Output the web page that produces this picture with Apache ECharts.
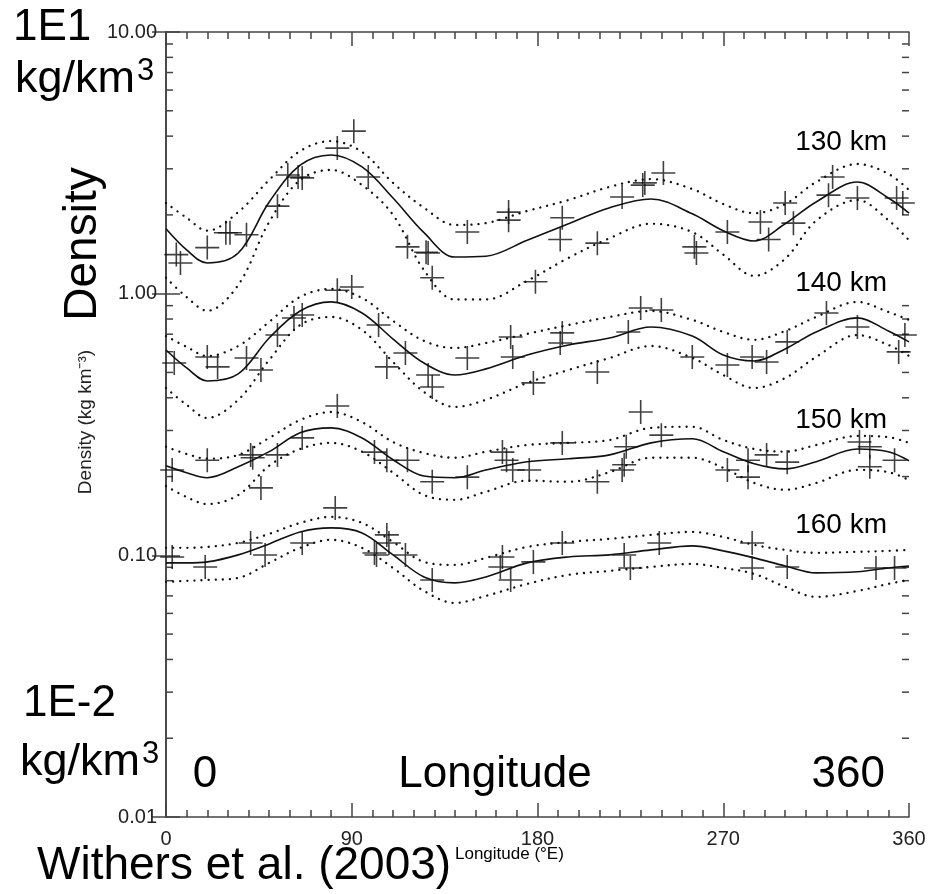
<!DOCTYPE html>
<html>
<head>
<meta charset="utf-8">
<script src="https://cdn.jsdelivr.net/npm/echarts@6/dist/echarts.min.js"></script>
<style>
html,body{margin:0;padding:0;background:#fff;}
#chart{width:930px;height:894px;}
</style>
</head>
<body>
<div id="chart"></div>
<script>
// Longitude grid for fitted curves (deg E)
const lonGrid = [0,10,20,35,50,65,80,95,110,125,140,155,175,195,215,235,255,270,285,300,315,335,350,360];

// 130 km
const fit130 = [1.77,1.47,1.31,1.43,2.24,3.10,3.39,3.05,2.32,1.71,1.38,1.39,1.60,1.85,2.13,2.30,2.02,1.74,1.59,1.85,2.24,2.67,2.32,2.03];
const up130  = [2.22,1.95,1.74,2.05,2.72,3.51,3.83,3.48,2.65,2.13,1.83,1.86,2.07,2.28,2.56,2.74,2.51,2.20,2.03,2.20,2.67,3.13,2.87,2.49];
const lo130  = [1.15,0.97,0.86,1.08,1.88,2.72,2.97,2.60,2.00,1.23,0.95,0.95,1.12,1.37,1.63,1.85,1.72,1.41,1.17,1.36,1.90,2.28,1.91,1.60];
// 140 km
const fit140 = [0.609,0.520,0.464,0.494,0.677,0.859,0.930,0.844,0.671,0.543,0.489,0.516,0.583,0.637,0.677,0.746,0.689,0.583,0.553,0.615,0.714,0.808,0.720,0.654];
const up140  = [0.689,0.626,0.578,0.631,0.780,0.972,1.042,0.963,0.787,0.660,0.620,0.648,0.702,0.759,0.815,0.859,0.794,0.714,0.666,0.720,0.815,0.930,0.851,0.794];
const lo140  = [0.436,0.376,0.335,0.393,0.558,0.759,0.815,0.727,0.548,0.421,0.369,0.393,0.456,0.511,0.568,0.631,0.568,0.489,0.436,0.476,0.573,0.695,0.637,0.578];
// 150 km
const fit150 = [0.220,0.207,0.198,0.218,0.249,0.294,0.307,0.281,0.232,0.201,0.198,0.212,0.228,0.234,0.242,0.269,0.279,0.249,0.224,0.214,0.228,0.255,0.249,0.230];
const up150  = [0.260,0.244,0.234,0.242,0.281,0.329,0.353,0.323,0.271,0.246,0.236,0.249,0.264,0.269,0.276,0.307,0.310,0.276,0.255,0.249,0.264,0.286,0.283,0.269];
const lo150  = [0.184,0.167,0.157,0.170,0.220,0.255,0.269,0.249,0.207,0.170,0.163,0.175,0.193,0.191,0.208,0.236,0.236,0.216,0.189,0.178,0.189,0.212,0.208,0.194];
// 160 km
const fit160 = [0.0936,0.0936,0.0944,0.1004,0.1106,0.1229,0.1273,0.1218,0.1004,0.0827,0.0785,0.0827,0.0936,0.0986,0.1004,0.1049,0.1087,0.1040,0.0978,0.0911,0.0857,0.0865,0.0895,0.0911];
const up160  = [0.1068,0.1068,0.1077,0.1116,0.1208,0.1330,0.1402,0.1330,0.1125,0.0944,0.0919,0.0978,0.1077,0.1125,0.1156,0.1197,0.1229,0.1176,0.1096,0.1049,0.1022,0.1031,0.1040,0.1049];
const lo160  = [0.0792,0.0799,0.0805,0.0820,0.0936,0.1068,0.1146,0.1068,0.0895,0.0731,0.0658,0.0700,0.0778,0.0842,0.0872,0.0903,0.0927,0.0895,0.0849,0.0758,0.0694,0.0731,0.0778,0.0805];

// Observations (crosses)
const obs130Lon = [5,7,20,29,31,39,54,59,64,66,83,91,98,117,126,127,129,146,166,166,179,192,191,209,221,231,232,241,256,257,272,288,292,300,304,323,321,335,354,357];
const obs130Val = [1.41,1.31,1.50,1.71,1.71,1.68,2.16,2.84,2.79,2.77,3.60,4.18,2.79,1.51,1.44,1.43,1.15,1.72,2.05,1.91,1.11,1.95,1.61,1.56,2.34,2.60,2.65,2.89,1.51,1.43,1.72,1.88,1.61,2.22,1.86,2.79,2.38,2.32,2.32,2.22];
const obs140Lon = [4,20,25,39,46,54,62,66,83,90,103,107,116,127,129,146,167,168,178,192,191,209,224,230,240,255,272,284,291,301,320,335,355,358];
const obs140Val = [0.543,0.573,0.525,0.568,0.511,0.695,0.807,0.829,1.03,1.06,0.759,0.525,0.593,0.489,0.440,0.568,0.683,0.573,0.456,0.708,0.648,0.502,0.714,0.882,0.866,0.573,0.534,0.573,0.548,0.654,0.844,0.746,0.599,0.695];
const obs150Lon = [3,20,41,42,46,54,66,83,101,107,117,129,146,163,165,168,176,192,230,223,222,221,209,240,272,282,282,291,301,336,341,341,353];
const obs150Val = [0.212,0.231,0.242,0.236,0.181,0.242,0.281,0.372,0.248,0.231,0.231,0.191,0.199,0.248,0.231,0.212,0.212,0.269,0.353,0.260,0.222,0.212,0.191,0.288,0.212,0.231,0.199,0.242,0.227,0.271,0.260,0.218,0.231];
const obs160Lon = [3,19,41,48,66,82,101,102,107,108,116,129,162,163,167,178,192,222,225,239,284,284,301,344,353];
const obs160Val = [0.0986,0.0903,0.1115,0.1003,0.1115,0.1518,0.1021,0.1003,0.1197,0.1115,0.1003,0.0805,0.0903,0.0986,0.0805,0.0944,0.1115,0.1003,0.0895,0.1115,0.1115,0.0895,0.0903,0.0895,0.0895];

const altLabels = ['130 km','140 km','150 km','160 km'];
const xTicks = [0,90,180,270,360];

const chart = echarts.init(document.getElementById('chart'), null, {renderer:'canvas'});
const FONT = '"Liberation Sans", Arial, Helvetica, sans-serif';
const AX = '#444';

function curve(arr){ return lonGrid.map((l,i)=>[l, arr[i]]); }
function obs(lons, vals){ return lons.map((l,i)=>[l, vals[i]]); }

const minorY = [];
[-2,-1,0].forEach(e=>{ for(let m=2;m<=9;m++){ minorY.push([0, +(m*Math.pow(10,e)).toPrecision(3)]); } });

const dotStyle = {color:'#111', width:2.3, type:[0.1,7], cap:'round'};
const series = [];
const sets = [
  [fit130, up130, lo130, obs130Lon, obs130Val],
  [fit140, up140, lo140, obs140Lon, obs140Val],
  [fit150, up150, lo150, obs150Lon, obs150Val],
  [fit160, up160, lo160, obs160Lon, obs160Val]
];
sets.forEach(s=>{
  series.push({type:'line', data:curve(s[0]), symbol:'none', smooth:0.35, silent:true,
    lineStyle:{color:'#111', width:1.6}});
  series.push({type:'line', data:curve(s[1]), symbol:'none', smooth:0.35, silent:true, lineStyle:dotStyle});
  series.push({type:'line', data:curve(s[2]), symbol:'none', smooth:0.35, silent:true, lineStyle:dotStyle});
  series.push({type:'scatter', data:obs(s[3], s[4]), symbol:'path://M12,0L12,24M0,12L24,12',
    symbolSize:24, silent:true,
    itemStyle:{color:'rgba(0,0,0,0)', borderColor:'#111', borderWidth:1.6}});
});
series.push({type:'custom', data:minorY, silent:true, clip:false,
  renderItem:function(params, api){
    const v = api.value(1);
    const pL = api.coord([0, v]);
    const pR = api.coord([360, v]);
    return {type:'group', children:[
      {type:'line', shape:{x1:pL[0], y1:pL[1], x2:pL[0]+7, y2:pL[1]}, style:{stroke:AX, lineWidth:1.5}},
      {type:'line', shape:{x1:pR[0]-7, y1:pR[1], x2:pR[0], y2:pR[1]}, style:{stroke:AX, lineWidth:1.5}}
    ]};
  }});

const xBase = {type:'value', min:0, max:360, interval:90,
  axisLine:{show:true, lineStyle:{color:AX, width:1.6}},
  axisTick:{show:true, inside:true, length:14, lineStyle:{color:AX, width:1.5}},
  minorTick:{show:true, splitNumber:9, length:7, lineStyle:{color:AX, width:1.5}},
  splitLine:{show:false}};
const yBase = {type:'log', logBase:10, min:0.01, max:10,
  axisLine:{show:true, lineStyle:{color:AX, width:1.6}},
  axisTick:{show:true, inside:true, length:14, lineStyle:{color:AX, width:1.5}},
  splitLine:{show:false}};

function T(text, x, y, size, align, extra){
  return Object.assign({type:'text', style:{text:text, x:x, y:y, font:size+'px '+FONT, fill:'#000',
    textAlign:align||'left', textVerticalAlign:'middle'}}, extra||{});
}
const graphic = [
  T('1E1', 13, 28, 44),
  T('kg/km', 15, 80, 45),
  T('3', 137, 71, 31),
  {type:'text', rotation:Math.PI/2, x:83, y:244, style:{text:'Density', x:0, y:0, font:'46px '+FONT, fill:'#000', textAlign:'center', textVerticalAlign:'middle'}},
  {type:'text', rotation:Math.PI/2, x:86, y:422, style:{text:'Density (kg km\u207B\u00B3)', x:0, y:0, font:'19px '+FONT, fill:'#222', textAlign:'center', textVerticalAlign:'middle'}},
  T('1E-2', 23, 704, 44),
  T('kg/km', 20, 763, 45),
  T('3', 142, 754, 31),
  T('0', 205, 775, 44, 'center'),
  T('Longitude', 495, 775, 44, 'center'),
  T('360', 885, 775, 44, 'right'),
  T('Withers et al. (2003)', 37, 866, 46),
  T('Longitude (\u00B0E)', 455, 854, 17),
  T(altLabels[0], 887, 142, 28, 'right'),
  T(altLabels[1], 887, 283, 28, 'right'),
  T(altLabels[2], 887, 420, 28, 'right'),
  T(altLabels[3], 887, 525, 28, 'right')
];

chart.setOption({
  animation:false,
  backgroundColor:'#fff',
  grid:{left:166, right:21, top:32, bottom:77, containLabel:false},
  xAxis:[
    Object.assign({}, xBase, {position:'bottom',
      axisLabel:{show:true, margin:12, fontSize:20, fontFamily:FONT, color:'#222',
        formatter:function(v){ return xTicks.indexOf(v)>=0 ? String(v) : ''; }}}),
    Object.assign({}, xBase, {position:'top', axisLabel:{show:false}})
  ],
  yAxis:[
    Object.assign({}, yBase, {position:'left',
      axisLabel:{show:true, margin:9, fontSize:20, fontFamily:FONT, color:'#222',
        formatter:function(v){ return Number(v).toFixed(2); }}}),
    Object.assign({}, yBase, {position:'right', axisLabel:{show:false}})
  ],
  series:series,
  graphic:graphic
});
</script>
</body>
</html>
